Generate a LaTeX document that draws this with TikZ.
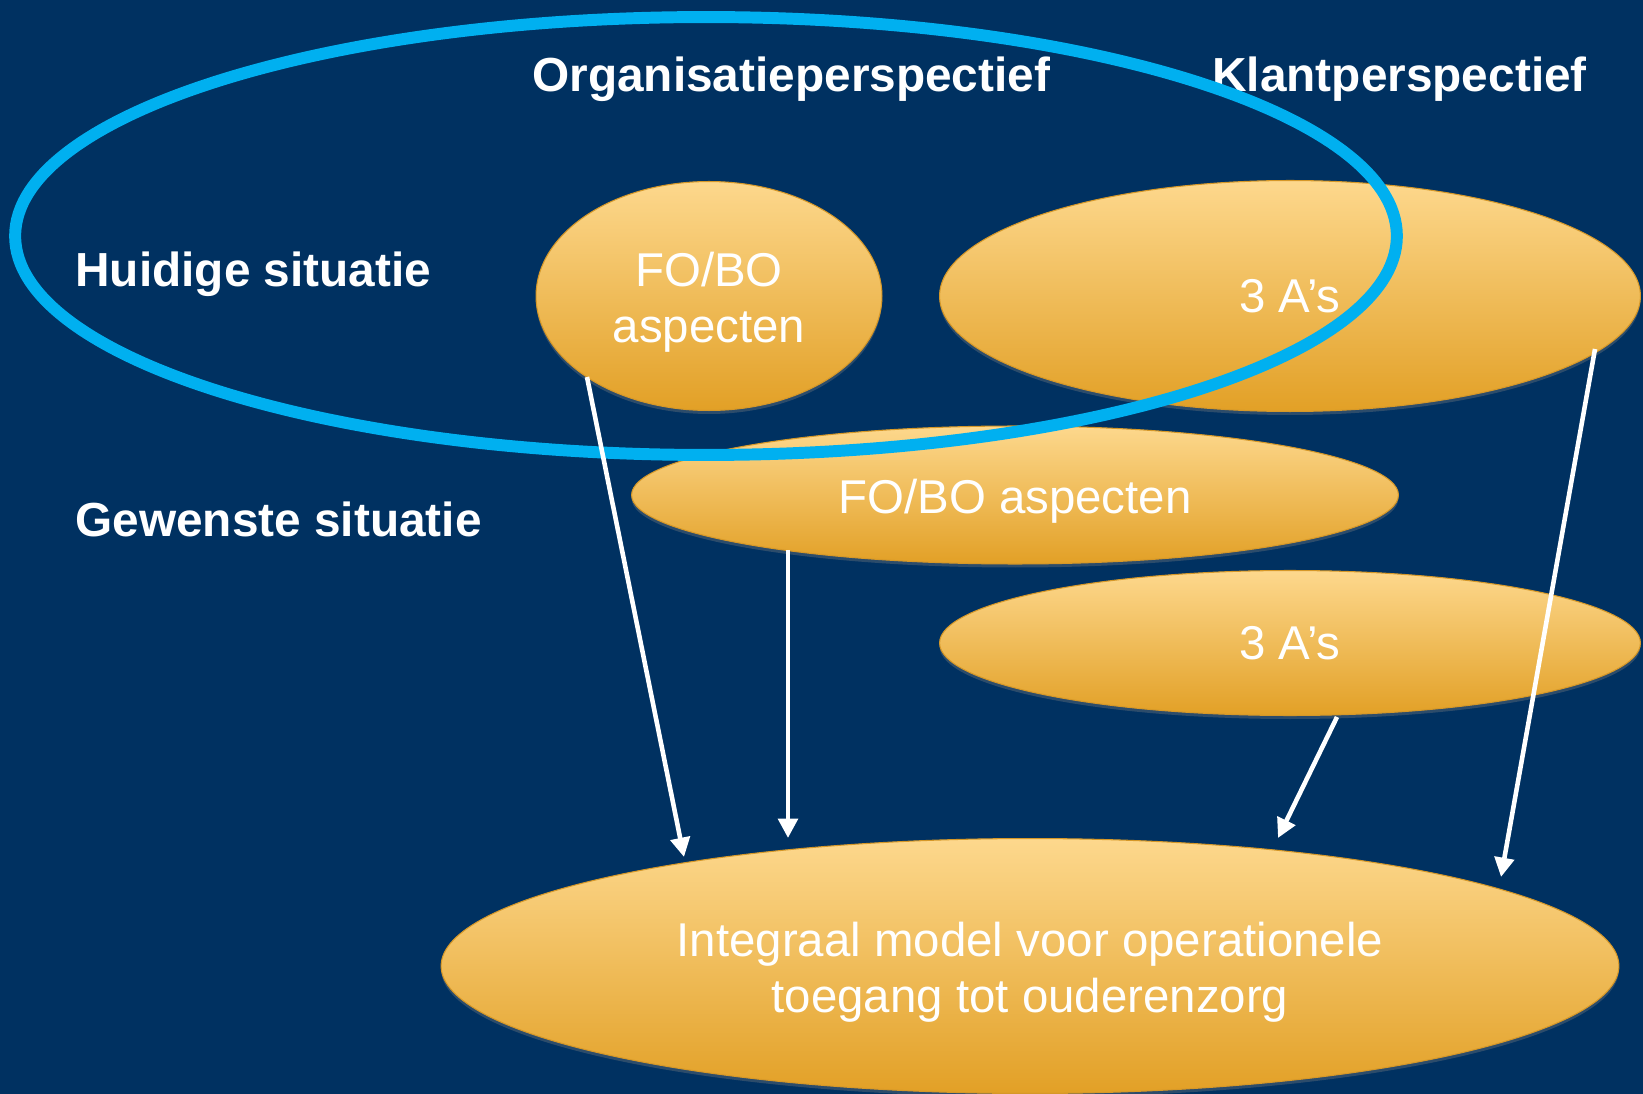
\documentclass[tikz,border=0pt]{standalone}
\usepackage{fontspec}
\setmainfont{Liberation Sans}
\usetikzlibrary{shapes.geometric,arrows.meta,shadows}
\definecolor{bg}{RGB}{0,49,97}
\definecolor{cyanring}{RGB}{0,176,240}
\definecolor{goldtop}{RGB}{253,216,141}
\definecolor{goldbot}{RGB}{226,160,38}
\definecolor{goldline}{RGB}{214,152,40}
\begin{document}
\begin{tikzpicture}[x=0.02cm,y=-0.02cm,
  blob/.style={ellipse, draw=goldline, line width=0.6pt, top color=goldtop, bottom color=goldbot,
    inner sep=0pt, drop shadow={shadow xshift=0pt, shadow yshift=-2pt, opacity=0.35}},
  txt/.style={text=white, align=center, inner sep=0pt, font=\fontsize{27}{32.3}\selectfont},
  lbl/.style={text=white, font=\bfseries\fontsize{27.2}{32.3}\selectfont, inner sep=0pt, anchor=base west},
  flow/.style={draw=white, line width=2.6pt, -{Triangle[length=11pt,width=11pt]}},
  ring/.style={draw=cyanring, line width=6.8pt}]
\clip (0,0) rectangle (1643,1094);
\fill[bg] (0,0) rectangle (1643,1094);
% labels
\node[lbl] (org) at (532,92) {Organisatieperspectief};
\node[lbl] (klant) at (1212,92) {Klantperspectief};
\node[lbl] (huidig) at (75,287) {Huidige situatie};
\node[lbl] (gewenst) at (75,537) {Gewenste situatie};
% ellipses
\node[blob, minimum width=6.92cm, minimum height=4.58cm] (fobo1) at (709,296) {};
\node[blob, minimum width=14.02cm, minimum height=4.62cm] (aaa1) at (1290,296) {};
\node[blob, minimum width=15.34cm, minimum height=2.76cm] (fobo2) at (1015,495) {};
\node[blob, minimum width=14.02cm, minimum height=2.9cm] (aaa2) at (1290,643) {};
\node[blob, minimum width=23.56cm, minimum height=5.1cm] (model) at (1030,966) {};
% texts
\node[txt] (fobo1t) at ([yshift=-3.6pt]fobo1.center) {FO/BO\\aspecten};
\node[txt] (aaa1t) at (aaa1.center) {3 A’s};
\node[txt] (fobo2t) at ([yshift=-3.6pt]fobo2.center) {FO/BO aspecten};
\node[txt] (aaa2t) at (aaa2.center) {3 A’s};
\node[txt] (modelt) at ([yshift=-3.6pt]model.center) {Integraal model voor operationele\\toegang tot ouderenzorg};
% ring
\draw[ring] (706,236) ellipse [x radius=13.82cm, y radius=4.38cm];
% arrows
\coordinate (s1) at (587,377); \coordinate (e1) at (684,857);
\coordinate (s2) at (788,550); \coordinate (e2) at (788,838);
\coordinate (s3) at (1337,717); \coordinate (e3) at (1278,838);
\coordinate (s4) at (1595,349); \coordinate (e4) at (1501,877);
\draw[flow] (s1) -- (e1);
\draw[flow] (s2) -- (e2);
\draw[flow] (s3) -- (e3);
\draw[flow] (s4) -- (e4);
\end{tikzpicture}
\end{document}
